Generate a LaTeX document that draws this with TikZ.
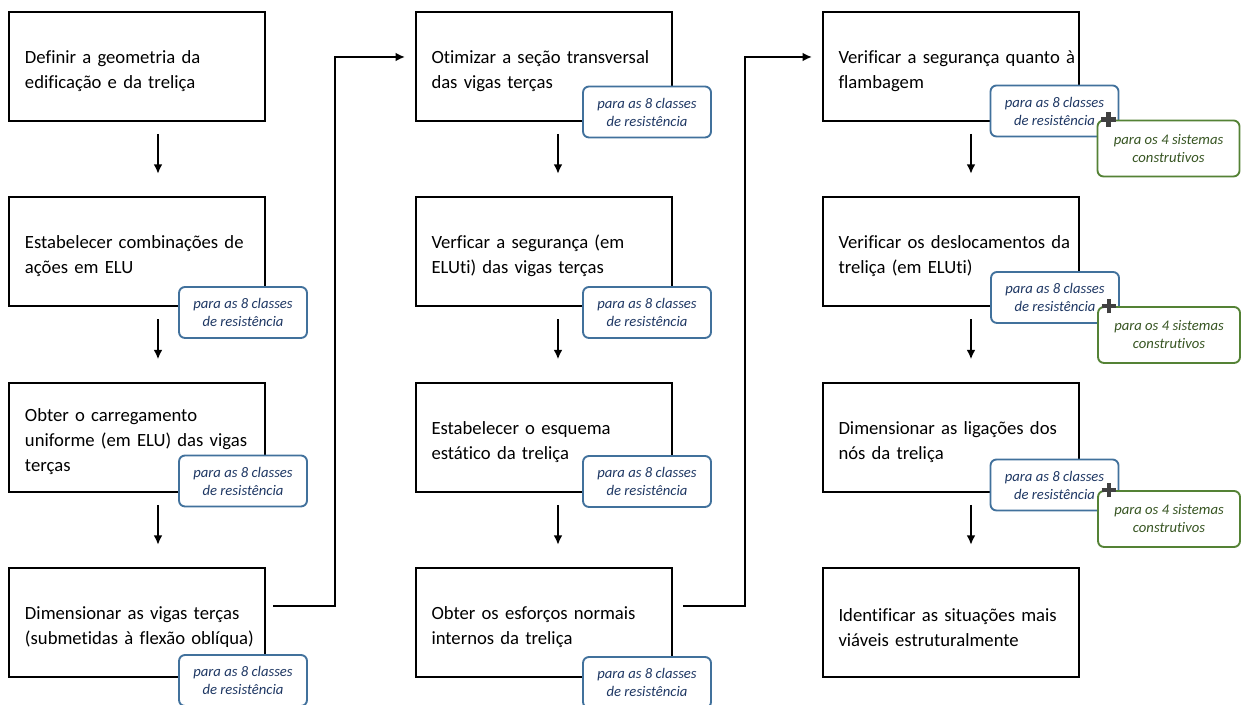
\documentclass[tikz,border=0pt]{standalone}
\usepackage{fontspec}
\setmainfont{Carlito}[Ligatures=NoCommon]
\usetikzlibrary{arrows.meta,calc}
\definecolor{tagblue}{HTML}{41719C}
\definecolor{tagtext}{HTML}{1F3864}
\definecolor{taggreen}{HTML}{548235}
\definecolor{gtext}{HTML}{385623}
\definecolor{plusgray}{HTML}{404040}
\tikzset{
  stepbox/.style={draw=black, line width=1.5pt, fill=white, minimum height=81.75pt,
    text width=168pt, inner xsep=12pt, align=left,
    font=\fontsize{14}{18.75}\selectfont,
    execute at begin node={\rule{0pt}{16pt}}},
  tagb/.style={draw=tagblue, line width=1.4pt, fill=white, rounded corners=4.5pt,
    minimum width=96pt, minimum height=38.25pt, align=center, inner sep=0pt,
    text=tagtext, font=\fontsize{11}{13.5}\selectfont\itshape},
  tagg/.style={tagb, draw=taggreen, text=gtext, minimum width=106.5pt, minimum height=42pt},
  flow/.style={line width=1.4pt, -{Latex[length=7pt,width=6.5pt]}},
  vflow/.style={flow, shorten <=9pt, shorten >=17pt},
  plusmark/.style={draw=plusgray, line width=3.2pt},
}
\begin{document}
\begin{tikzpicture}[x=0.75pt,y=-0.75pt]
\useasboundingbox (0,0) rectangle (1247,705);
% boxes
\node[stepbox] (b1) at (137,66.5) {\mbox{Definir a geometria da}\\\mbox{edificação e da treliça}};
\node[stepbox] (b2) at (137,252) {\mbox{Estabelecer combinações de}\\ações em ELU};
\node[stepbox] (b3) at (137,437.5) {Obter o carregamento\\\mbox{uniforme (em ELU) das vigas}\\terças};
\node[stepbox] (b4) at (137,623) {\mbox{Dimensionar as vigas terças}\\\mbox{(submetidas à flexão oblíqua)}};
\node[stepbox] (b5) at (543.5,66.5) {\mbox{Otimizar a seção transversal}\\das vigas terças};
\node[stepbox] (b6) at (543.5,252) {\mbox{Verficar a segurança (em}\\\mbox{ELUti) das vigas terças}};
\node[stepbox] (b7) at (543.5,437.5) {Estabelecer o esquema\\estático da treliça};
\node[stepbox] (b8) at (543.5,623) {\mbox{Obter os esforços normais}\\internos da treliça};
\node[stepbox] (b9) at (950.5,66.5) {\mbox{Verificar a segurança quanto à}\\flambagem};
\node[stepbox] (b10) at (950.5,252) {\mbox{Verificar os deslocamentos da}\\treliça (em ELUti)};
\node[stepbox] (b11) at (950.5,437.5) {\mbox{Dimensionar as ligações dos}\\nós da treliça};
\node[stepbox] (b12) at (950.5,623) {\mbox{Identificar as situações mais}\\viáveis estruturalmente};
% vertical arrows
\coordinate (a1) at (158,0);
\coordinate (a2) at (558,0);
\coordinate (a3) at (971,0);
\draw[vflow] (b1.south -| a1) -- (b2.north -| a1);
\draw[vflow] (b2.south -| a1) -- (b3.north -| a1);
\draw[vflow] (b3.south -| a1) -- (b4.north -| a1);
\draw[vflow] (b5.south -| a2) -- (b6.north -| a2);
\draw[vflow] (b6.south -| a2) -- (b7.north -| a2);
\draw[vflow] (b7.south -| a2) -- (b8.north -| a2);
\draw[vflow] (b9.south -| a3) -- (b10.north -| a3);
\draw[vflow] (b10.south -| a3) -- (b11.north -| a3);
\draw[vflow] (b11.south -| a3) -- (b12.north -| a3);
% column connectors
\coordinate (c1s) at (273,606);
\coordinate (c1e) at (405,57);
\coordinate (c2s) at (683,606);
\coordinate (c2e) at (812,57);
\draw[flow] (c1s) -- ++(62,0) |- (c1e);
\draw[flow] (c2s) -- ++(62,0) |- (c2e);
% blue tags
\node[tagb] (t2) at (243,312.5) {para as 8 classes\\de resistência};
\node[tagb] (t3) at (243,481) {para as 8 classes\\de resistência};
\node[tagb] (t4) at (243,680.5) {para as 8 classes\\de resistência};
\node[tagb] (t5) at (647,112) {para as 8 classes\\de resistência};
\node[tagb] (t6) at (647,312.5) {para as 8 classes\\de resistência};
\node[tagb] (t7) at (647,481.5) {para as 8 classes\\de resistência};
\node[tagb] (t8) at (647,682.5) {para as 8 classes\\de resistência};
\node[tagb] (t9) at (1054.5,111) {para as 8 classes\\de resistência};
\node[tagb] (t10) at (1055,297.5) {para as 8 classes\\de resistência};
\node[tagb] (t11) at (1054.5,485) {para as 8 classes\\de resistência};
% green tags
\node[tagg] (g9) at (1168.5,148.5) {para os 4 sistemas\\construtivos};
\node[tagg] (g10) at (1169,335) {para os 4 sistemas\\construtivos};
\node[tagg] (g11) at (1169,519) {para os 4 sistemas\\construtivos};
% plus marks
\foreach \g in {g9,g10,g11}{
  \coordinate (p\g) at ($(\g.north west)+(9pt,0)$);
  \draw[plusmark] ($(p\g)+(-5.5pt,0)$) -- ($(p\g)+(5.5pt,0)$)
                  ($(p\g)+(0,-5.5pt)$) -- ($(p\g)+(0,5.5pt)$);
}
\end{tikzpicture}
\end{document}
